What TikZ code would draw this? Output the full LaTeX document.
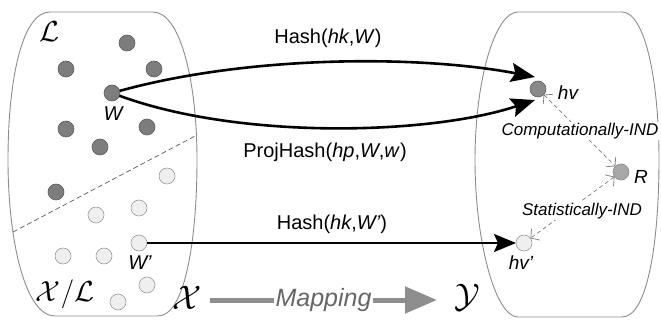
\RequirePackage{fix-cm}
\documentclass[tikz,border=0pt]{standalone}
\usepackage{fontspec}
\setmainfont{Liberation Sans}
\usetikzlibrary{arrows.meta,calc}

\definecolor{boxgray}{HTML}{8C8C8C}
\definecolor{dotdark}{HTML}{7D7D7D}
\definecolor{dotdarkedge}{HTML}{5E5E5E}
\definecolor{dotlightfill}{HTML}{EFEFEF}
\definecolor{dotlightedge}{HTML}{9A9A9A}
\definecolor{rdot}{HTML}{A8A8A8}
\definecolor{indgray}{HTML}{7A7A7A}
\definecolor{mapgray}{HTML}{8E8E8E}
\definecolor{maptext}{HTML}{666666}

\begin{document}
\begin{tikzpicture}[x=1pt,y=-1pt,
  every node/.style={inner sep=0pt, outer sep=0pt},
  setbox/.style={draw=boxgray, line width=0.9pt},
  darkdot/.style={circle, draw=dotdarkedge, fill=dotdark, line width=0.6pt, minimum size=16pt},
  lightdot/.style={circle, draw=dotlightedge, fill=dotlightfill, line width=0.6pt, minimum size=16pt},
  rdotstyle/.style={circle, draw=dotdarkedge!70, fill=rdot, line width=0.6pt, minimum size=16pt},
  fnlabel/.style={font=\fontsize{20}{24}\selectfont},
  ptlabel/.style={font=\fontsize{20}{24}\selectfont\itshape},
  hvlabel/.style={font=\fontsize{19}{23}\selectfont\itshape},
  indlabel/.style={font=\fontsize{17}{20}\selectfont\itshape, fill=white, inner sep=1.5pt},
  calname/.style={font=\fontsize{29}{34}\selectfont},
  bigcal/.style={font=\fontsize{34}{38}\selectfont},
  hasharrow/.style={line width=2.6pt, -{Stealth[length=24pt,width=19pt,inset=4pt]}},
  hasharrowthin/.style={line width=2pt, -{Stealth[length=22pt,width=18pt,inset=4pt]}},
  indarrow/.style={draw=indgray, line width=0.7pt, dash pattern=on 4pt off 3pt,
    {Straight Barb[length=6pt,width=14pt]}-{Straight Barb[length=6pt,width=14pt]}},
  maparrow/.style={draw=mapgray, line width=5pt, -{Triangle[length=32pt,width=26pt]}},
  divider/.style={draw=black!65, line width=0.7pt, dash pattern=on 5pt off 3pt}
]
\path[use as bounding box] (0,0) rectangle (661,320);

% the two sets: domain X on the left, range Y on the right
\draw[setbox] (50,12) -- (153,12) .. controls (180,12) and (197,80) .. (197,160)
  .. controls (197,240) and (185,316) .. (158,316) -- (55,316)
  .. controls (25,316) and (8,240) .. (8,160)
  .. controls (8,80) and (22,12) .. (50,12) -- cycle;
\draw[setbox] (518,12) -- (622,12) .. controls (645,12) and (659,80) .. (659,160)
  .. controls (659,240) and (648,317) .. (622,317) -- (518,317)
  .. controls (495,317) and (475,240) .. (475,160)
  .. controls (475,80) and (495,12) .. (518,12) -- cycle;

% boundary between L and X/L
\coordinate (divA) at (13,232);
\coordinate (divB) at (197,135);
\draw[divider] (divA) -- (divB);

% words of the language L
\node[darkdot] (l1) at (127,43) {};
\node[darkdot] (l2) at (66,69) {};
\node[darkdot] (l3) at (154,69) {};
\node[darkdot] (W)  at (112,93) {};
\node[darkdot] (l4) at (66,129) {};
\node[darkdot] (l5) at (147,127) {};
\node[darkdot] (l6) at (100,147) {};
\node[darkdot] (l7) at (56,192) {};

% elements of X outside L
\node[lightdot] (n1) at (167,176) {};
\node[lightdot] (n2) at (96,215) {};
\node[lightdot] (n3) at (139,208) {};
\node[lightdot] (Wp) at (139,243) {};
\node[lightdot] (n4) at (63,256) {};
\node[lightdot] (n5) at (104,256) {};
\node[lightdot] (n6) at (147,285) {};
\node[lightdot] (n7) at (118,302) {};

\node[ptlabel] (Wlab) at (113,114) {W};
\node[ptlabel] (Wplab) at (140,263) {W'};

\node[calname] (calL) at (50,32) {$\mathcal{L}$};
\node[calname] (calXL) at (65,294) {$\mathcal{X}/\mathcal{L}$};

% hash values in Y
\node[darkdot, fill=dotdark!90] (hv) at (538,89) {};
\node[rdotstyle] (R) at (621,172) {};
\node[lightdot] (hvp) at (524,243) {};

\node[hvlabel] (hvlab) at (568,93) {hv};
\node[hvlabel] (Rlab) at (641,177) {R};
\node[hvlabel] (hvplab) at (521,263) {hv'};

% hash computations
\coordinate (hvA) at ($(hv)+(-3,-12)$);
\coordinate (hvB) at ($(hv)+(-3,11)$);
\draw[hasharrow] (W) .. controls (250,55) and (420,55) .. (hvA);
\draw[hasharrow] (W) .. controls (240,140) and (430,135) .. (hvB);
\draw[hasharrowthin] (Wp) -- (hvp);

\node[fnlabel] (hashlab) at (328,38) {Hash(\textit{hk},\textit{W})};
\node[fnlabel] (projlab) at (325,152) {ProjHash(\textit{hp},\textit{W},\textit{w})};
\node[fnlabel] (hashplab) at (332,224) {Hash(\textit{hk},\textit{W'})};

% indistinguishability relations
\draw[indarrow] (hv) -- (R);
\draw[indarrow] (R) -- (hvp);
\node[indlabel] (cind) at (580,131) {Computationally-IND};
\node[indlabel] (sind) at (582,211) {Statistically-IND};

% the mapping from X to Y
\node[bigcal] (calX) at (187,298) {$\mathcal{X}$};
\node[bigcal] (calY) at (467,298) {$\mathcal{Y}$};
\coordinate (mapA) at (210,300);
\coordinate (mapB) at (437,300);
\draw[maparrow] (mapA) -- node[fill=white, inner sep=2pt, text=maptext,
  font=\fontsize{25}{28}\selectfont\itshape] (maplab) {Mapping} (mapB);
\end{tikzpicture}
\end{document}
